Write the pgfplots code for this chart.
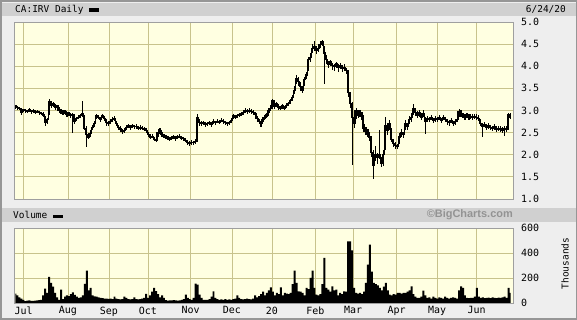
\documentclass[border=0pt]{standalone}
\usepackage{pgfplots}
\pgfplotsset{compat=1.18}
\usepackage{pgfplotstable}
\usepackage{fontspec}
\setmainfont{DejaVu Sans Mono}
\newfontfamily\bcfont{Liberation Sans}
\definecolor{plotbg}{RGB}{255,255,225}
\definecolor{gridcol}{RGB}{200,195,140}
\definecolor{hdr}{RGB}{208,208,208}
\definecolor{pagebg}{RGB}{238,238,238}
\definecolor{framecol}{RGB}{150,150,150}

\pgfplotstableread{
d lo hi c
0 3.04 3.12 3.10
1 3.02 3.10 3.06
2 3.00 3.08 3.04
3 2.90 3.05 2.95
4 2.96 3.04 3.02
5 2.95 3.03 3.00
6 2.94 3.02 2.98
7 2.97 3.05 3.02
8 2.93 3.02 2.97
9 2.95 3.03 3.00
10 2.92 3.00 2.96
11 2.94 3.01 2.98
12 2.90 2.99 2.95
13 2.89 2.97 2.94
14 2.86 2.96 2.90
15 2.65 2.88 2.72
16 2.70 2.84 2.80
17 2.90 3.25 3.20
18 3.06 3.22 3.12
19 3.08 3.19 3.15
20 3.02 3.14 3.08
21 3.04 3.13 3.10
22 2.95 3.08 3.00
23 2.93 3.03 2.98
24 2.90 3.00 2.95
25 2.92 3.02 2.98
26 2.86 2.97 2.92
27 2.87 2.96 2.93
28 2.83 2.93 2.88
29 2.50 2.94 2.90
30 2.70 2.90 2.75
31 2.76 2.86 2.82
32 2.80 2.90 2.85
33 2.82 2.92 2.88
34 2.86 3.22 2.92
35 2.55 2.90 2.60
36 2.17 2.65 2.45
37 2.35 2.50 2.40
38 2.40 2.55 2.48
39 2.55 2.68 2.62
40 2.62 2.76 2.70
41 2.80 2.92 2.88
42 2.80 2.90 2.85
43 2.74 2.86 2.80
44 2.82 2.92 2.88
45 2.76 2.88 2.82
46 2.66 2.80 2.72
47 2.64 2.76 2.70
48 2.70 2.80 2.75
49 2.74 2.86 2.80
50 2.76 2.88 2.82
51 2.64 2.76 2.70
52 2.56 2.68 2.62
53 2.52 2.64 2.58
54 2.48 2.58 2.52
55 2.50 2.60 2.55
56 2.57 2.68 2.62
57 2.60 2.70 2.65
58 2.57 2.67 2.62
59 2.60 2.70 2.66
60 2.58 2.68 2.63
61 2.59 2.69 2.64
62 2.55 2.65 2.60
63 2.57 2.67 2.62
64 2.55 2.64 2.60
65 2.53 2.62 2.58
66 2.50 2.60 2.55
67 2.40 2.52 2.45
68 2.35 2.46 2.40
69 2.37 2.47 2.42
70 2.30 2.40 2.35
71 2.29 2.38 2.33
72 2.40 2.58 2.50
73 2.48 2.60 2.55
74 2.40 2.52 2.45
75 2.37 2.47 2.42
76 2.35 2.45 2.40
77 2.33 2.43 2.38
78 2.30 2.40 2.35
79 2.33 2.43 2.38
80 2.35 2.45 2.40
81 2.32 2.42 2.37
82 2.35 2.45 2.40
83 2.37 2.47 2.42
84 2.33 2.43 2.38
85 2.31 2.41 2.36
86 2.28 2.38 2.33
87 2.23 2.33 2.28
88 2.20 2.30 2.25
89 2.23 2.33 2.28
90 2.22 2.32 2.27
91 2.24 2.35 2.30
92 2.28 2.92 2.85
93 2.66 2.80 2.72
94 2.65 2.76 2.70
95 2.67 2.77 2.72
96 2.63 2.73 2.68
97 2.65 2.75 2.70
98 2.67 2.77 2.72
99 2.63 2.73 2.68
100 2.70 2.80 2.75
101 2.67 2.77 2.72
102 2.71 2.81 2.76
103 2.69 2.79 2.74
104 2.73 2.83 2.78
105 2.70 2.80 2.75
106 2.67 2.77 2.72
107 2.65 2.75 2.70
108 2.67 2.77 2.72
109 2.72 2.84 2.78
110 2.80 2.92 2.88
111 2.80 2.90 2.85
112 2.83 2.93 2.88
113 2.85 2.95 2.90
114 2.87 2.97 2.92
115 2.90 3.00 2.95
116 2.95 3.05 3.00
117 2.93 3.03 2.98
118 2.95 3.05 3.00
119 2.93 3.03 2.98
120 2.90 3.00 2.95
121 2.86 2.97 2.92
122 2.76 2.88 2.82
123 2.70 2.80 2.75
124 2.63 2.76 2.70
125 2.74 2.85 2.80
126 2.80 2.90 2.85
127 2.85 2.95 2.90
128 2.94 3.05 3.00
129 3.00 3.12 3.05
130 3.10 3.26 3.22
131 3.04 3.18 3.10
132 3.08 3.20 3.15
133 3.02 3.14 3.08
134 3.00 3.10 3.05
135 3.04 3.15 3.10
136 3.00 3.10 3.05
137 3.06 3.17 3.12
138 3.10 3.20 3.15
139 3.15 3.27 3.22
140 3.22 3.36 3.30
141 3.38 3.55 3.45
142 3.60 3.80 3.72
143 3.55 3.75 3.65
144 3.45 3.65 3.55
145 3.39 3.55 3.45
146 3.55 3.75 3.70
147 3.72 3.88 3.80
148 3.90 4.20 4.15
149 4.10 4.30 4.20
150 4.30 4.50 4.40
151 4.35 4.58 4.45
152 4.28 4.45 4.35
153 4.32 4.50 4.40
154 4.42 4.58 4.50
155 4.45 4.60 4.55
156 3.60 4.45 4.30
157 4.05 4.25 4.15
158 3.95 4.12 4.05
159 4.00 4.15 4.10
160 3.92 4.08 4.02
161 3.90 4.06 4.00
162 3.95 4.10 4.05
163 3.88 4.05 3.98
164 3.94 4.08 4.02
165 3.88 4.02 3.95
166 3.90 4.05 3.98
167 3.82 3.96 3.90
168 3.30 3.92 3.40
169 3.05 3.42 3.15
170 1.76 3.20 2.85
171 2.60 2.98 2.70
172 2.80 3.05 3.00
173 2.82 3.02 2.90
174 2.85 3.00 2.95
175 2.78 2.96 2.88
176 2.52 2.70 2.60
177 2.45 2.62 2.55
178 2.40 2.58 2.50
179 2.30 2.50 2.40
180 1.95 2.30 2.05
181 1.45 2.10 1.75
182 1.85 2.20 2.00
183 1.80 2.05 1.95
184 1.90 2.55 2.00
185 1.72 1.95 1.80
186 1.75 2.10 2.00
187 2.10 2.85 2.65
188 2.45 2.72 2.55
189 2.55 2.78 2.70
190 2.28 2.60 2.35
191 2.18 2.35 2.25
192 2.14 2.28 2.20
193 2.12 2.25 2.18
194 2.25 2.50 2.40
195 2.40 2.58 2.50
196 2.38 2.52 2.45
197 2.55 2.78 2.70
198 2.55 2.72 2.65
199 2.70 2.88 2.80
200 2.75 2.95 2.85
201 2.90 3.14 3.05
202 2.88 3.05 2.95
203 2.82 2.98 2.90
204 2.86 3.00 2.95
205 2.78 2.95 2.85
206 2.85 3.00 2.93
207 2.48 2.85 2.75
208 2.75 2.88 2.82
209 2.74 2.86 2.80
210 2.78 2.90 2.85
211 2.72 2.84 2.78
212 2.75 2.88 2.82
213 2.74 2.86 2.80
214 2.78 2.90 2.85
215 2.72 2.84 2.78
216 2.78 2.90 2.85
217 2.74 2.86 2.80
218 2.68 2.80 2.75
219 2.66 2.78 2.72
220 2.72 2.84 2.78
221 2.65 2.76 2.70
222 2.68 2.80 2.75
223 2.74 2.86 2.80
224 2.85 3.03 2.98
225 2.85 3.00 2.92
226 2.82 2.95 2.88
227 2.79 2.92 2.85
228 2.82 2.95 2.88
229 2.79 2.92 2.85
230 2.81 2.93 2.87
231 2.78 2.91 2.84
232 2.80 2.92 2.86
233 2.79 2.91 2.85
234 2.76 2.89 2.82
235 2.64 2.80 2.70
236 2.40 2.72 2.65
237 2.62 2.74 2.68
238 2.56 2.70 2.62
239 2.59 2.72 2.65
240 2.56 2.68 2.62
241 2.54 2.66 2.60
242 2.57 2.70 2.63
243 2.52 2.65 2.58
244 2.54 2.66 2.60
245 2.52 2.64 2.58
246 2.49 2.62 2.55
247 2.42 2.66 2.60
248 2.52 2.64 2.58
249 2.55 2.95 2.90
250 2.80 2.95 2.85
}\price

\pgfplotstableread{
d v
0 75
1 60
2 45
3 35
4 25
5 15
6 18
7 20
8 17
9 16
10 18
11 20
12 22
13 25
14 60
15 115
16 80
17 208
18 160
19 130
20 80
21 45
22 25
23 107
24 30
25 50
26 60
27 55
28 70
29 85
30 65
31 50
32 40
33 45
34 60
35 152
36 259
37 100
38 120
39 60
40 53
41 50
42 45
43 40
44 38
45 35
46 35
47 32
48 35
49 30
50 50
51 35
52 30
53 28
54 30
55 50
56 40
57 30
58 28
59 30
60 45
61 30
62 28
63 30
64 35
65 40
66 72
67 40
68 60
69 90
70 120
71 95
72 70
73 45
74 60
75 40
76 22
77 18
78 20
79 20
80 22
81 20
82 18
83 20
84 25
85 30
86 67
87 40
88 30
89 25
90 40
91 155
92 147
93 67
94 40
95 25
96 25
97 25
98 30
99 50
100 93
101 40
102 30
103 25
104 28
105 25
106 30
107 25
108 28
109 25
110 30
111 35
112 60
113 40
114 30
115 28
116 30
117 35
118 30
119 28
120 35
121 60
122 45
123 55
124 70
125 90
126 60
127 80
128 100
129 125
130 90
131 60
132 80
133 70
134 125
135 60
136 80
137 75
138 70
139 80
140 150
141 259
142 160
143 93
144 90
145 80
146 60
147 120
148 110
149 200
150 259
151 120
152 67
153 60
154 70
155 150
156 360
157 120
158 107
159 90
160 133
161 100
162 107
163 60
164 80
165 70
166 93
167 90
168 493
169 493
170 420
171 120
172 80
173 75
174 80
175 70
176 90
177 160
178 307
179 467
180 250
181 160
182 150
183 140
184 120
185 100
186 130
187 160
188 100
189 67
190 60
191 70
192 67
193 80
194 80
195 75
196 80
197 80
198 90
199 100
200 133
201 70
202 50
203 40
204 40
205 50
206 99
207 60
208 40
209 45
210 35
211 50
212 40
213 35
214 45
215 40
216 35
217 50
218 40
219 35
220 40
221 45
222 40
223 35
224 100
225 133
226 120
227 60
228 40
229 38
230 40
231 40
232 50
233 120
234 50
235 40
236 45
237 38
238 40
239 42
240 38
241 45
242 40
243 38
244 42
245 40
246 45
247 50
248 40
249 120
250 80
}\vol

\pgfplotsset{
  bcstyle/.style={
    scale only axis, width=499bp,
    xmin=-0.5, xmax=251.5,
    axis background/.style={fill=plotbg},
    axis line style={draw=gray!75, line width=0.6bp},
    xmajorgrids, ymajorgrids,
    major grid style={draw=gridcol, line width=0.8bp},
    major tick length=0pt,
    yticklabel pos=right,
    xtick={4.05,26.5,47.2,66.9,88.4,109.3,129.5,151.5,170.5,192.5,212.9,232.9},
    tick label style={font=\fontsize{10}{10}\selectfont, inner sep=0pt, text=black},
    yticklabel style={anchor=west},
    yticklabel shift=7.5bp,
    /pgf/number format/assume math mode=true,
  }
}

\begin{document}
\begin{tikzpicture}
\fill[framecol] (0,0) rectangle (577bp,320bp);
\fill[pagebg] (2bp,2bp) rectangle (575.5bp,318bp);
\fill[hdr] (2bp,304bp) rectangle (575.5bp,317bp);
\fill[hdr] (2bp,98bp) rectangle (575.5bp,112bp);

\node[anchor=west, inner sep=0pt, font=\fontsize{9.5}{10}\selectfont] at (15bp,310.5bp)
  {CA:IRV Daily \rule[0.3bp]{10bp}{3.5bp}};
\node[anchor=east, inner sep=0pt, font=\fontsize{9.5}{10}\selectfont] at (566bp,310.5bp) {6/24/20};
\node[anchor=west, inner sep=0pt, font=\fontsize{9.5}{10}\selectfont] at (13bp,105bp)
  {Volume \rule[0.3bp]{10bp}{3.5bp}};
\node[anchor=east, inner sep=0pt, font=\bcfont\bfseries\fontsize{11}{11}\selectfont, text=gray!85] at (513bp,105bp) {©BigCharts.com};
\node[rotate=90, inner sep=0pt, font=\fontsize{9.5}{10}\selectfont] at (565bp,56.5bp) {Thousands};

% price panel
\begin{axis}[bcstyle,
  at={(14.5bp,121bp)}, anchor=south west, height=177bp,
  ymin=1, ymax=5, ytick={1,1.5,...,5.01},
  xticklabels={},
  yticklabel style={/pgf/number format/.cd, fixed, fixed zerofill, precision=1},
]
\addplot[black, line width=1.2bp, const plot mark mid] table[x=d, y=c] {\price};
\addplot[draw=none, mark=none, forget plot,
  error bars/.cd, y dir=both, y explicit, error mark=none,
  error bar style={black, line width=1.1bp}]
  table[x=d, y=c, y error plus expr=\thisrow{hi}-\thisrow{c},
        y error minus expr=\thisrow{c}-\thisrow{lo}] {\price};
\end{axis}

% volume panel
\begin{axis}[bcstyle,
  at={(14.5bp,17bp)}, anchor=south west, height=75bp,
  ymin=0, ymax=600, ytick={0,200,400,600},
  xticklabels={Jul,Aug,Sep,Oct,Nov,Dec,20,Feb,Mar,Apr,May,Jun},
  xticklabel shift=3.5bp,
]
\addplot[fill=black, draw=none, const plot mark mid] table[x=d, y=v] {\vol} \closedcycle;
\end{axis}
\end{tikzpicture}
\end{document}
